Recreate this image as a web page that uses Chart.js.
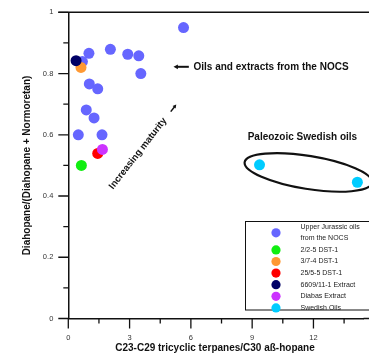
<!DOCTYPE html>
<html lang="en">
<head>
    <meta charset="UTF-8">
    <title>Diahopane ratio vs tricyclic terpanes</title>
    <script src="https://cdn.jsdelivr.net/npm/chart.js"></script>
    <style>
        html, body {
            margin: 0;
            padding: 0;
            background-color: #fff;
        }
        #wrap {
            width: 369px;
            height: 355px;
        }
    </style>
</head>
<body>
    <div id="wrap"><canvas id="chart" width="369" height="355"></canvas></div>

    <script>
        // series (x = C23-C29 tricyclic terpanes / C30 ab-hopane, y = diahopane ratio)
        const jurassicX = [5.64, 1.01, 2.06, 2.91, 3.45, 3.55, 0.69, 1.03, 1.44, 0.88, 1.26, 0.49, 1.65];
        const jurassicY = [0.950, 0.866, 0.879, 0.863, 0.858, 0.800, 0.839, 0.766, 0.750, 0.681, 0.655, 0.600, 0.600];
        const dst225X = [0.64];
        const dst225Y = [0.500];
        const dst374X = [0.62];
        const dst374Y = [0.820];
        const dst2555X = [1.44];
        const dst2555Y = [0.539];
        const extract6609X = [0.38];
        const extract6609Y = [0.842];
        const diabasX = [1.67];
        const diabasY = [0.552];
        const swedishX = [9.36, 14.15];
        const swedishY = [0.502, 0.445];

        const seriesNames = ['Upper Jurassic oils from the NOCS', '2/2-5 DST-1', '3/7-4 DST-1', '25/5-5 DST-1', '6609/11-1 Extract', 'Diabas Extract', 'Swedish Oils'];
        const legendLines = [['Upper Jurassic oils', 'from the NOCS'], ['2/2-5 DST-1'], ['3/7-4 DST-1'], ['25/5-5 DST-1'], ['6609/11-1 Extract'], ['Diabas Extract'], ['Swedish Oils']];
        const seriesColors = ['#6666ff', '#11ee11', '#ff9933', '#ff0000', '#000066', '#cc33ff', '#00ccff'];

        const xTicks = [0, 3, 6, 9, 12];
        const xMinorTicks = [1.5, 4.5, 7.5, 10.5, 13.5];
        const yTicks = [0, 0.2, 0.4, 0.6, 0.8, 1];
        const yMinorTicks = [0.1, 0.3, 0.5, 0.7, 0.9];

        const FONT = "'Liberation Sans', Arial, sans-serif";

        function toPoints(xs, ys) {
            return xs.map((x, i) => ({ x: x, y: ys[i] }));
        }

        const seriesData = [
            toPoints(jurassicX, jurassicY),
            toPoints(dst225X, dst225Y),
            toPoints(dst374X, dst374Y),
            toPoints(dst2555X, dst2555Y),
            toPoints(extract6609X, extract6609Y),
            toPoints(diabasX, diabasY),
            toPoints(swedishX, swedishY)
        ];
        // blue cloud at the back, the single samples on top of it
        const drawOrder = [7, 5, 3, 4, 2, 1, 1];

        const datasets = seriesNames.map((name, i) => ({
            label: name,
            data: seriesData[i],
            backgroundColor: seriesColors[i],
            borderWidth: 0,
            pointRadius: 5.5,
            order: drawOrder[i]
        }));

        function arrow(ctx, x1, y1, x2, y2, head) {
            const a = Math.atan2(y2 - y1, x2 - x1);
            ctx.beginPath();
            ctx.moveTo(x1, y1);
            ctx.lineTo(x2 - Math.cos(a) * head * 0.6, y2 - Math.sin(a) * head * 0.6);
            ctx.stroke();
            ctx.beginPath();
            ctx.moveTo(x2, y2);
            ctx.lineTo(x2 - head * Math.cos(a - 0.5), y2 - head * Math.sin(a - 0.5));
            ctx.lineTo(x2 - head * Math.cos(a + 0.5), y2 - head * Math.sin(a + 0.5));
            ctx.closePath();
            ctx.fill();
        }

        // chart.js reserves room for end labels + tick padding; the frame here is fixed
        function noEdgePadding(scale) {
            scale.paddingTop = 0;
            scale.paddingBottom = 0;
            scale.paddingLeft = 0;
            scale.paddingRight = 0;
        }

        const decorations = {
            id: 'decorations',
            afterDraw(chart) {
                const ctx = chart.ctx;
                const xs = chart.scales.x;
                const ys = chart.scales.y;
                const area = chart.chartArea;
                ctx.save();
                ctx.strokeStyle = '#111';
                ctx.fillStyle = '#111';

                // frame lines running out past the plot area (the original is cut off on the right)
                ctx.lineWidth = 1.5;
                ctx.beginPath();
                ctx.moveTo(area.left - 10, area.top);
                ctx.lineTo(chart.width, area.top);
                ctx.moveTo(area.right, area.bottom);
                ctx.lineTo(chart.width, area.bottom);
                ctx.stroke();

                // tick marks
                ctx.lineWidth = 1.3;
                ctx.beginPath();
                yTicks.forEach(v => { const p = ys.getPixelForValue(v); ctx.moveTo(area.left - 10, p); ctx.lineTo(area.left, p); });
                yMinorTicks.forEach(v => { const p = ys.getPixelForValue(v); ctx.moveTo(area.left - 5, p); ctx.lineTo(area.left, p); });
                xTicks.forEach(v => { const p = xs.getPixelForValue(v); ctx.moveTo(p, area.bottom); ctx.lineTo(p, area.bottom + 10); });
                xMinorTicks.forEach(v => { const p = xs.getPixelForValue(v); ctx.moveTo(p, area.bottom); ctx.lineTo(p, area.bottom + 5); });
                ctx.stroke();

                // axis titles
                ctx.font = 'bold 10px ' + FONT;
                ctx.textAlign = 'center';
                ctx.textBaseline = 'middle';
                ctx.fillText('C23-C29 tricyclic terpanes/C30 aß-hopane', 215, 348.5);
                ctx.save();
                ctx.translate(27, 165.5);
                ctx.rotate(-Math.PI / 2);
                ctx.fillText('Diahopane/(Diahopane + Normoretan)', 0, 0);
                ctx.restore();

                // ellipse around the Swedish oils
                ctx.lineWidth = 2.2;
                ctx.beginPath();
                ctx.ellipse(xs.getPixelForValue(11.75), ys.getPixelForValue(0.477), 64.5, 16.5, 9.2 * Math.PI / 180, 0, Math.PI * 2);
                ctx.stroke();

                // annotations
                ctx.font = 'bold 10px ' + FONT;
                ctx.textAlign = 'left';
                ctx.fillText('Oils and extracts from the NOCS', xs.getPixelForValue(6.13), ys.getPixelForValue(0.822));
                ctx.lineWidth = 2;
                arrow(ctx, xs.getPixelForValue(5.9), ys.getPixelForValue(0.822), xs.getPixelForValue(5.15), ys.getPixelForValue(0.822), 5);

                ctx.textAlign = 'center';
                ctx.fillText('Paleozoic Swedish oils', xs.getPixelForValue(11.46), ys.getPixelForValue(0.593));

                ctx.save();
                ctx.font = 'bold 9.5px ' + FONT;
                ctx.translate(xs.getPixelForValue(2.09), ys.getPixelForValue(0.426));
                ctx.rotate(-52 * Math.PI / 180);
                ctx.textAlign = 'left';
                ctx.fillText('Increasing maturity', 0, 0);
                ctx.lineWidth = 1.5;
                arrow(ctx, 97, 0, 106, 0, 4);
                ctx.restore();

                // legend box
                ctx.lineWidth = 1;
                ctx.strokeRect(245.5, 221.5, 130, 88.5);
                ctx.font = '7px ' + FONT;
                ctx.textAlign = 'left';
                let rowY = 227.3;
                legendLines.forEach((lines, i) => {
                    const markY = rowY + (lines.length - 1) * 11 / 2;
                    ctx.fillStyle = seriesColors[i];
                    ctx.beginPath();
                    ctx.arc(276, markY, 4.6, 0, Math.PI * 2);
                    ctx.fill();
                    ctx.fillStyle = '#222';
                    lines.forEach((t, j) => ctx.fillText(t, 300.5, rowY + j * 11));
                    rowY += lines.length * 11 + 0.6;
                });
                ctx.restore();
            }
        };

        new Chart(document.getElementById('chart').getContext('2d'), {
            type: 'scatter',
            data: { datasets: datasets },
            options: {
                responsive: false,
                animation: false,
                layout: { padding: { top: 12.3, right: 0, bottom: 0, left: 0 } },
                plugins: {
                    legend: { display: false },
                    tooltip: { enabled: false }
                },
                scales: {
                    x: {
                        type: 'linear',
                        min: 0,
                        max: 14.45,
                        afterBuildTicks: scale => { scale.ticks = xTicks.map(v => ({ value: v })); },
                        afterFit: scale => { scale.height = 36.5; noEdgePadding(scale); },
                        grid: { display: false, drawTicks: false },
                        border: { display: true, color: '#111', width: 1.5 },
                        ticks: {
                            padding: 15,
                            color: '#333',
                            font: { family: FONT, size: 7.5 },
                            maxRotation: 0,
                            callback: v => String(v)
                        }
                    },
                    y: {
                        type: 'linear',
                        min: 0,
                        max: 1,
                        afterBuildTicks: scale => { scale.ticks = yTicks.map(v => ({ value: v })); },
                        afterFit: scale => { scale.width = 68.3; noEdgePadding(scale); },
                        grid: { display: false, drawTicks: false },
                        border: { display: true, color: '#111', width: 1.5 },
                        ticks: {
                            padding: 15,
                            color: '#333',
                            font: { family: FONT, size: 7.5 },
                            callback: v => String(v)
                        }
                    }
                }
            },
            plugins: [decorations]
        });
    </script>
</body>
</html>
